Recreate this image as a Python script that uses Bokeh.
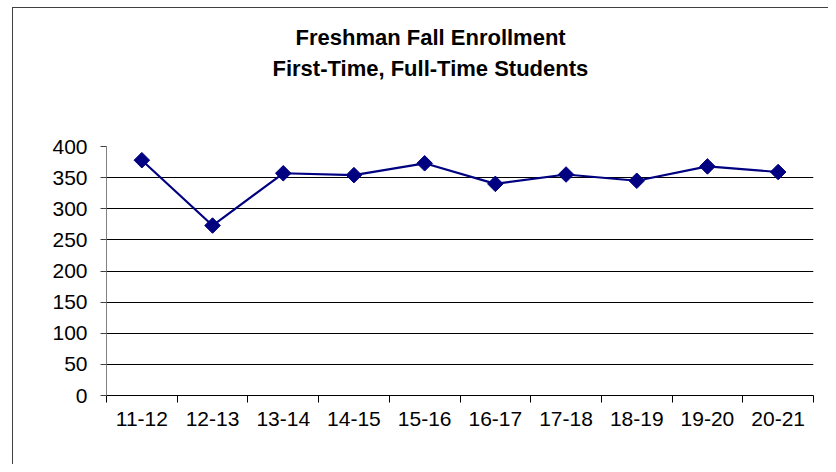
from bokeh.plotting import figure
from bokeh.models import FixedTicker, Title, Range1d
from bokeh.embed import file_html
from bokeh.resources import INLINE

# ---- data ----
years = ["11-12", "12-13", "13-14", "14-15", "15-16", "16-17", "17-18", "18-19", "19-20", "20-21"]
enrollment = [378, 273, 357, 354, 373, 340, 355, 345, 368, 359]
y_ticks = [0, 50, 100, 150, 200, 250, 300, 350, 400]
title_lines = ["Freshman Fall Enrollment", "First-Time, Full-Time Students"]

FONT = "Liberation Sans"

n = len(years)
centers = [i + 0.5 for i in range(n)]
bounds = [float(i) for i in range(n + 1)]

p = figure(width=828, height=464, output_backend="svg", toolbar_location=None,
           x_range=Range1d(0, n), y_range=Range1d(y_ticks[0], y_ticks[-1]),
           min_border_left=106, min_border_right=15, min_border_top=146, min_border_bottom=69)
p.background_fill_color = "white"
p.border_fill_color = "white"
p.border_fill_alpha = 0
p.outline_line_color = None
p.styles = {
    "background": "linear-gradient(#404040,#404040) 12px 7px / 1px 100% no-repeat, "
                  "linear-gradient(#404040,#404040) 12px 7px / 100% 1px no-repeat, white"
}

# grid
p.xgrid.visible = False
p.ygrid.grid_line_color = "black"
p.ygrid.grid_line_width = 1

# x axis
xa = p.xaxis[0]
xa.ticker = FixedTicker(ticks=centers, minor_ticks=bounds)
xa.major_label_overrides = {c: y for c, y in zip(centers, years)}
xa.major_tick_line_color = None
xa.minor_tick_line_color = "black"
xa.minor_tick_in = 0
xa.minor_tick_out = 7
xa.axis_line_color = "black"
xa.major_label_text_font = FONT
xa.major_label_text_font_size = "21px"
xa.major_label_text_color = "black"
xa.major_label_standoff = 9

# y axis
ya = p.yaxis[0]
ya.ticker = FixedTicker(ticks=y_ticks)
ya.axis_line_color = "#808080"
ya.major_tick_line_color = "#404040"
ya.major_tick_in = 0
ya.major_tick_out = 6
ya.minor_tick_line_color = None
ya.major_label_text_font = FONT
ya.major_label_text_font_size = "21px"
ya.major_label_text_color = "black"
ya.major_label_standoff = 13

# series
p.line(centers, enrollment, line_color="#000080", line_width=2.2)
p.scatter(centers, enrollment, marker="square", angle=0.785398, size=11,
          fill_color="#000080", line_color="#000080")

# title: spacer nearest the frame, then second line, then first line
title_style = dict(text_font=FONT, text_font_size="22px", text_font_style="bold",
                   text_color="black", align="left")
p.add_layout(Title(text=" ", standoff=37, **title_style), "above")
p.add_layout(Title(text=title_lines[1], offset=166, standoff=4, **title_style), "above")
p.add_layout(Title(text=title_lines[0], offset=189, standoff=4, **title_style), "above")

open("out.html", "w").write(file_html(p, INLINE))
